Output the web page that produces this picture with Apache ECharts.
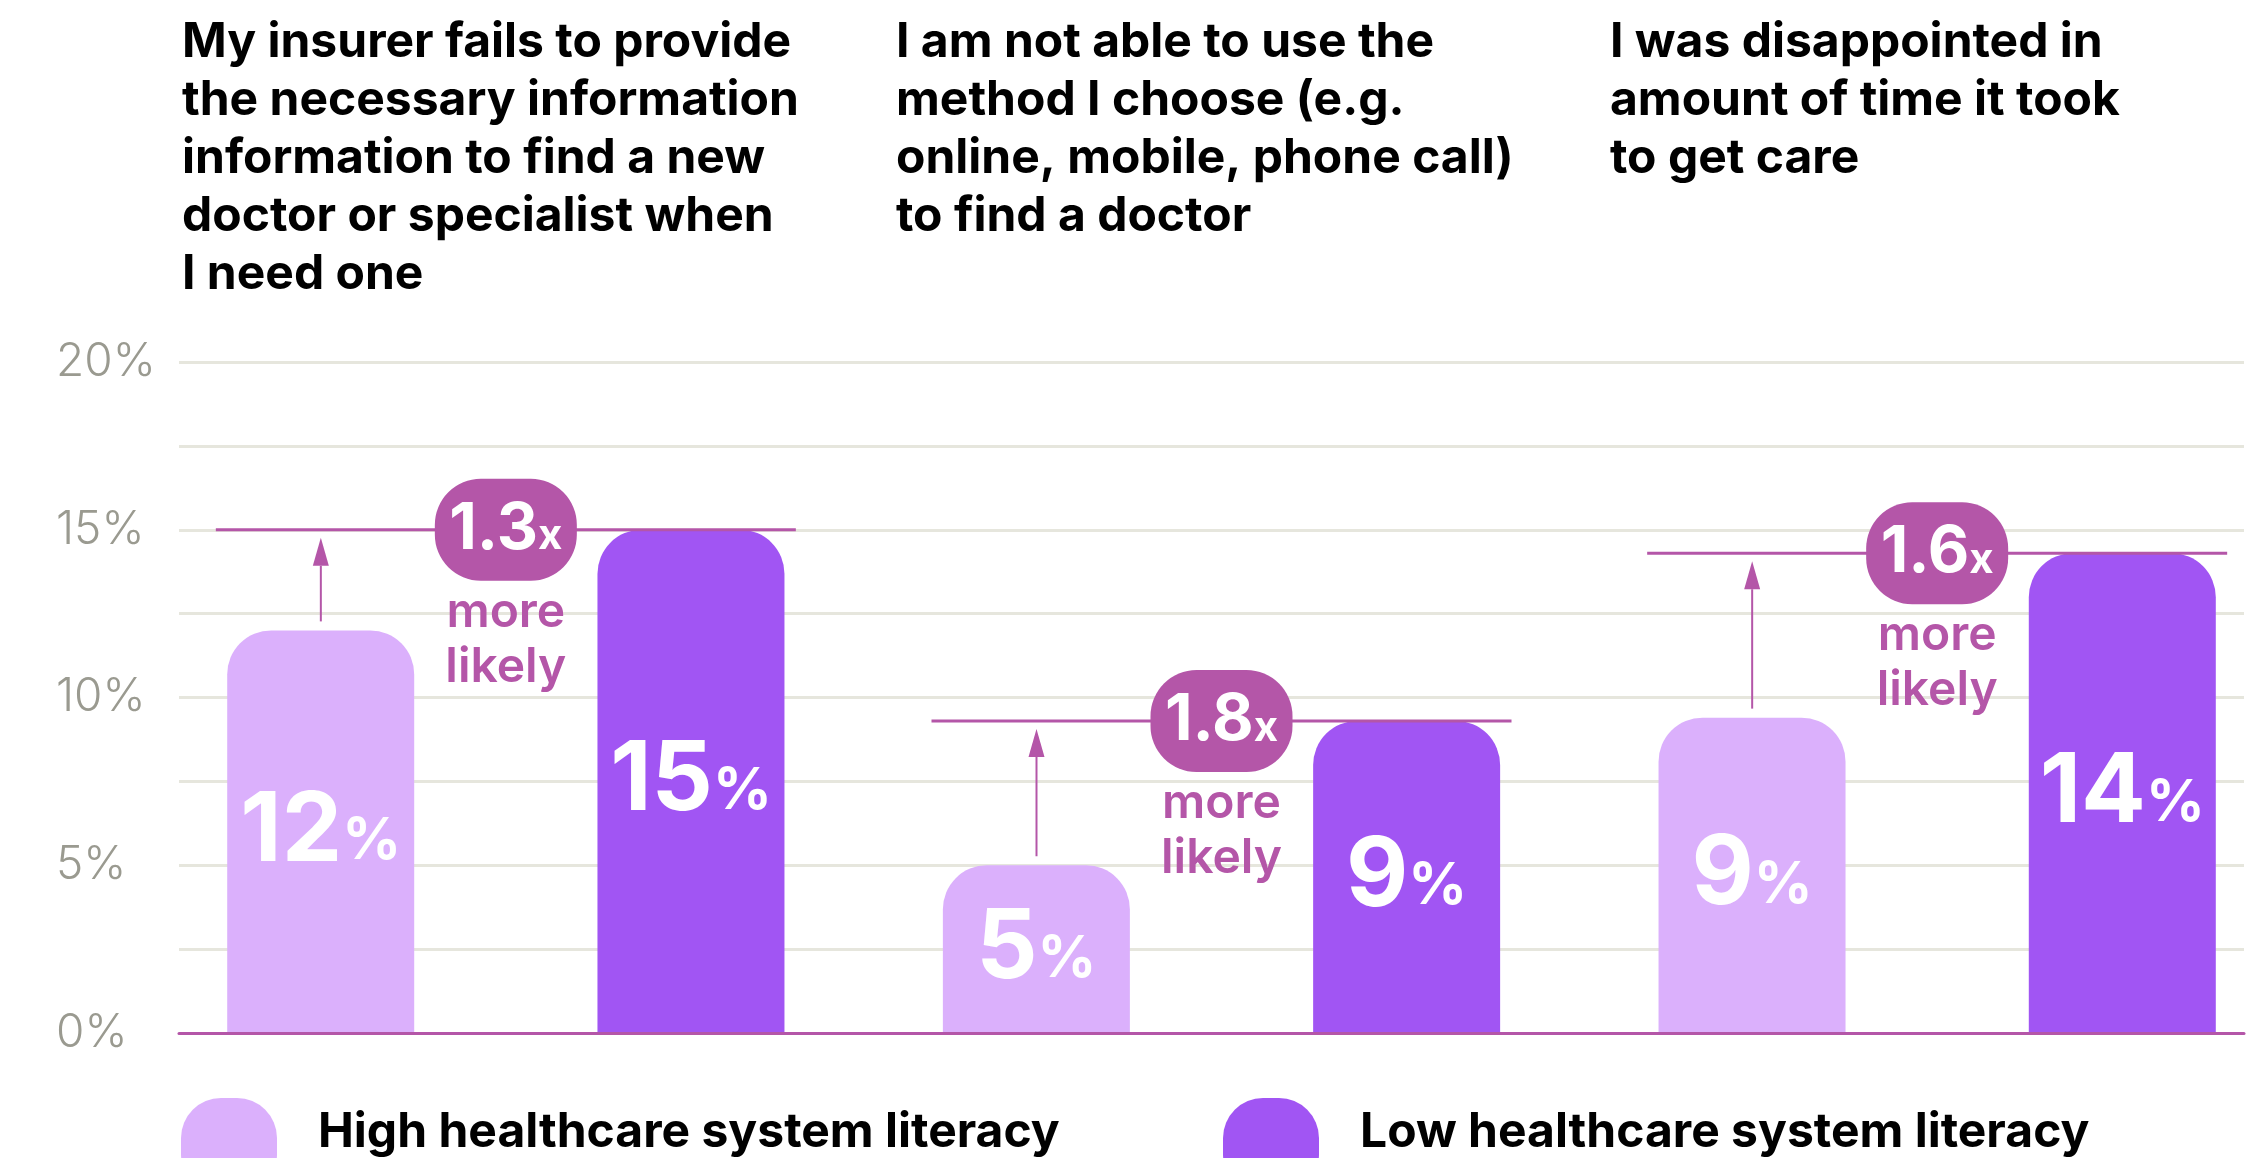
<!DOCTYPE html>
<html>
<head>
<meta charset="utf-8">
<script src="https://cdn.jsdelivr.net/npm/echarts@6/dist/echarts.min.js"></script>
<style>
html,body{margin:0;padding:0;background:#fff;}
#chart{width:2265px;height:1158px;}
</style>
</head>
<body>
<div id="chart"></div>
<script>
// ---- data ----
var categories = [
  "My insurer fails to provide\nthe necessary information\ninformation to find a new\ndoctor or specialist when\nI need one",
  "I am not able to use the\nmethod I choose (e.g.\nonline, mobile, phone call)\nto find a doctor",
  "I was disappointed in\namount of time it took\nto get care"
];
var seriesNames = ["High healthcare system literacy", "Low healthcare system literacy"];
var highValues = [12, 5, 9.4];
var lowValues = [15, 9.3, 14.3];
var ratios = ["1.3", "1.8", "1.6"];
var yTicks = [0, 5, 10, 15, 20];

// ---- style ----
var FONT = "Inter";
var C_HIGH = "#dbb0fc";
var C_LOW = "#a155f3";
var C_ACC = "#b456a8";
var C_GRID = "#e6e6dd";
var C_TICK = "#9a9a90";
var LEGEND_ICON = 'path://M40,0 H56 A40,40 0 0 1 96,40 V56 A40,40 0 0 1 56,96 H40 A40,40 0 0 1 0,56 V40 A40,40 0 0 1 40,0 Z';

var chart = echarts.init(document.getElementById('chart'), null, {renderer: 'canvas'});

var titleLefts = [182, 896, 1610];
var titles = categories.map(function (t, i) {
  return {
    text: t, left: titleLefts[i], top: 14, padding: 0,
    textStyle: {fontFamily: FONT, fontSize: 48, fontWeight: 700, color: '#000', lineHeight: 58}
  };
});

var annData = categories.map(function (c, i) {
  return [i, highValues[i], lowValues[i], ratios[i]];
});

function barLabel() {
  return {
    show: true, position: 'inside',
    formatter: function (p) { return '{a|' + Math.round(p.value) + '}{b|%}'; },
    rich: {
      a: {fontFamily: FONT, fontSize: 96, fontWeight: 700, color: '#fff'},
      b: {fontFamily: FONT, fontSize: 58, fontWeight: 700, color: '#fff', padding: [20, 0, 0, 0]}
    }
  };
}

function legendCfg(name, left) {
  return {
    data: [name], left: left, top: 1098, icon: LEGEND_ICON, itemWidth: 96, itemHeight: 96,
    padding: 0,
    formatter: function (n) { return '{t|' + n + '}'; },
    textStyle: {
      rich: {
        t: {fontFamily: FONT, fontSize: 48, fontWeight: 700, color: '#000',
            lineHeight: 96, verticalAlign: 'top', padding: [11, 0, 0, 36]}
      }
    }
  };
}

var option = {
  backgroundColor: '#fff',
  animation: false,
  title: titles,
  legend: [legendCfg(seriesNames[0], 181), legendCfg(seriesNames[1], 1223)],
  grid: [
    {left: 179, width: 2065, top: 362, height: 671, outerBoundsMode: 'none'},
    {left: 148, width: 2147, top: 362, height: 671, outerBoundsMode: 'none'}
  ],
  xAxis: [
    {
      gridIndex: 0, type: 'value', min: 0, max: 1, z: 5,
      axisLine: {show: true, lineStyle: {color: C_ACC, width: 3}},
      axisTick: {show: false}, axisLabel: {show: false}, splitLine: {show: false}
    },
    {
      gridIndex: 1, type: 'category', data: [0, 1, 2],
      axisLine: {show: false}, axisTick: {show: false}, axisLabel: {show: false}, splitLine: {show: false}
    }
  ],
  yAxis: [
    {
      gridIndex: 0, type: 'value', min: 0, max: 20, interval: 2.5,
      axisLine: {show: false}, axisTick: {show: false},
      splitLine: {show: true, lineStyle: {color: C_GRID, width: 3}},
      axisLabel: {
        margin: 123, align: 'left',
        fontFamily: FONT, fontSize: 46, fontWeight: 300, color: C_TICK,
        formatter: function (v) { return yTicks.indexOf(v) >= 0 ? v + '%' : ''; }
      }
    },
    {
      gridIndex: 1, type: 'value', min: 0, max: 20, interval: 2.5, show: false,
      splitLine: {show: false}
    }
  ],
  series: [
    {
      name: seriesNames[0], type: 'bar', xAxisIndex: 1, yAxisIndex: 1,
      data: highValues, barWidth: 187, barGap: '98%',
      itemStyle: {color: C_HIGH, borderRadius: [44, 44, 0, 0]},
      label: barLabel()
    },
    {
      name: seriesNames[1], type: 'bar', xAxisIndex: 1, yAxisIndex: 1,
      data: lowValues, barWidth: 187, barGap: '98%',
      itemStyle: {color: C_LOW, borderRadius: [44, 44, 0, 0]},
      label: barLabel()
    },
    {
      type: 'custom', xAxisIndex: 1, yAxisIndex: 1, z: 10,
      data: annData,
      encode: {x: 0, y: 2},
      renderItem: function (params, api) {
        var cat = api.value(0), hi = api.value(1), lo = api.value(2);
        var ratio = annData[params.dataIndex][3];
        var c = api.coord([cat, lo]);
        var h = api.coord([cat, hi]);
        var cx = c[0], ly = c[1];
        var ax = cx - 185;
        var tipY = ly + 8, baseY = ly + 8 + 28;
        return {
          type: 'group',
          children: [
            {type: 'line', shape: {x1: cx - 290, y1: ly, x2: cx + 290, y2: ly},
              style: {stroke: C_ACC, lineWidth: 3}},
            {type: 'line', shape: {x1: ax, y1: h[1] - 9, x2: ax, y2: baseY},
              style: {stroke: C_ACC, lineWidth: 2}},
            {type: 'polygon', shape: {points: [[ax, tipY], [ax - 8, baseY], [ax + 8, baseY]]},
              style: {fill: C_ACC}},
            {type: 'rect', shape: {x: cx - 71, y: ly - 51, width: 142, height: 102, r: 46},
              style: {fill: C_ACC}},
            {type: 'text', style: {
              x: cx, y: ly, align: 'center', verticalAlign: 'middle',
              text: '{a|' + ratio + '}{b|x}',
              rich: {
                a: {fontFamily: FONT, fontSize: 64, fontWeight: 700, fill: '#fff', color: '#fff'},
                b: {fontFamily: FONT, fontSize: 42, fontWeight: 700, fill: '#fff', color: '#fff', padding: [14, 0, 0, 0]}
              }
            }},
            {type: 'text', style: {
              x: cx, y: ly + 55, align: 'center', verticalAlign: 'top',
              text: 'more\nlikely',
              fontFamily: FONT, fontSize: 48, fontWeight: 600, fill: C_ACC, lineHeight: 55
            }}
          ]
        };
      }
    }
  ]
};
chart.setOption(option);
</script>
</body>
</html>
